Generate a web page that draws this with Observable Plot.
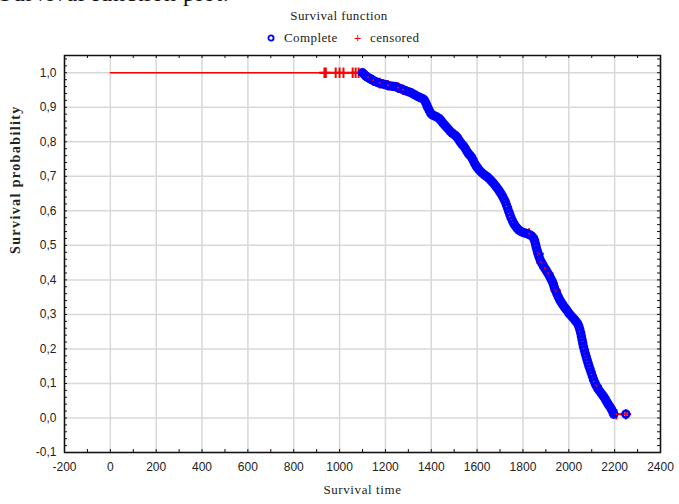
<!DOCTYPE html>
<html>
<head>
<meta charset="utf-8">
<script src="https://cdn.jsdelivr.net/npm/d3@7"></script>
<script src="https://cdn.jsdelivr.net/npm/@observablehq/plot@0.6"></script>
<style>
  html, body { margin: 0; padding: 0; background: #fff; }
  #wrap { position: relative; width: 679px; height: 504px; overflow: hidden; background: #fff; }
  .serif { font-family: "Liberation Serif", "DejaVu Serif", serif; color: #222; }
  #cut { position: absolute; left: -1px; top: -19px; font-size: 24px; line-height: 24px; white-space: nowrap; color: #111; letter-spacing: 0.6px; }
  #title { position: absolute; top: 8px; left: 239px; width: 200px; text-align: center; font-size: 13px; letter-spacing: 0.4px; white-space: nowrap; }
  .leg { position: absolute; top: 31px; font-size: 13px; line-height: 14px; letter-spacing: 0.4px; white-space: nowrap; }
  #chart { position: absolute; left: 0; top: 46px; }
</style>
</head>
<body>
<div id="wrap">
  <div id="cut" class="serif">Survival function plot.</div>
  <div id="title" class="serif">Survival function</div>
  <svg style="position:absolute;left:266px;top:33px" width="10" height="10"><circle cx="5" cy="5" r="2.6" fill="none" stroke="#0000ff" stroke-width="1.8"/></svg>
  <div class="leg serif" style="left:284px;">Complete</div>
  <div class="leg serif" style="left:354px;color:#ff0000;font-weight:bold;">+</div>
  <div class="leg serif" style="left:370px;">censored</div>
  <div id="chart"></div>
</div>
<script>
// Complete (event) times and Kaplan-Meier survival values
const eventTimes = [1100,1108,1115,1122,1130,1138,1146,1155,1165,1175,1185,1196,1207,1218,1230,1242,1255,1266,1277,1288,1300,1312,1323,1333,1343,1352,1362,1370,1376,1381,1386,1392,1398,1405,1414,1424,1434,1442,1450,1458,1466,1474,1482,1490,1498,1506,1514,1521,1528,1535,1542,1549,1556,1563,1570,1577,1583,1589,1595,1601,1608,1615,1623,1632,1641,1650,1659,1667,1675,1683,1690,1697,1704,1711,1717,1723,1728,1733,1738,1743,1748,1754,1760,1767,1774,1781,1789,1798,1808,1818,1828,1838,1846,1851,1855,1858,1862,1866,1870,1875,1881,1888,1895,1902,1909,1916,1922,1928,1933,1937,1942,1948,1954,1960,1966,1973,1980,1987,1994,2001,2009,2017,2025,2032,2039,2044,2048,2052,2055,2058,2061,2064,2068,2072,2076,2080,2084,2088,2093,2098,2103,2108,2114,2120,2127,2134,2142,2150,2157,2163,2169,2175,2181,2187,2192,2196,2249];
const survival = [1.000,0.995,0.990,0.987,0.984,0.981,0.978,0.975,0.972,0.970,0.968,0.966,0.964,0.962,0.961,0.960,0.957,0.954,0.951,0.948,0.945,0.942,0.938,0.934,0.931,0.928,0.925,0.921,0.913,0.905,0.898,0.890,0.882,0.878,0.875,0.872,0.868,0.862,0.855,0.849,0.843,0.837,0.831,0.826,0.822,0.818,0.812,0.805,0.798,0.792,0.787,0.780,0.772,0.765,0.760,0.754,0.746,0.738,0.731,0.725,0.719,0.714,0.709,0.704,0.700,0.695,0.689,0.683,0.677,0.670,0.664,0.657,0.650,0.642,0.634,0.626,0.617,0.608,0.598,0.589,0.580,0.571,0.563,0.556,0.550,0.545,0.541,0.538,0.536,0.534,0.531,0.527,0.521,0.513,0.503,0.494,0.485,0.476,0.467,0.458,0.450,0.442,0.434,0.427,0.419,0.411,0.403,0.395,0.387,0.378,0.369,0.360,0.351,0.343,0.336,0.329,0.322,0.316,0.310,0.303,0.297,0.291,0.285,0.279,0.273,0.265,0.256,0.246,0.236,0.226,0.216,0.206,0.196,0.186,0.177,0.168,0.159,0.150,0.141,0.131,0.121,0.111,0.102,0.093,0.085,0.078,0.071,0.064,0.057,0.050,0.043,0.037,0.031,0.024,0.017,0.011,0.011];
// Censored times
const censoredTimes = [934,940,983,1000,1017,1057,1070,1083,1124,1146,1175,1211,1255,1277,1827,1869,1881,1895,1910,1943,2121,2208,2249];
// Axis ticks
const xTicks = [-200,0,200,400,600,800,1000,1200,1400,1600,1800,2000,2200,2400];
const yTicks = [-0.1,0.0,0.1,0.2,0.3,0.4,0.5,0.6,0.7,0.8,0.9,1.0];

const events = eventTimes.map((t, i) => ({t, s: survival[i]}));
function survAt(t) {
  let s = 1;
  for (const e of events) { if (e.t <= t) s = e.s; else break; }
  return s;
}
const stepData = [{t: 0, s: 1}, ...events];
const censored = censoredTimes.map(t => ({t, s: survAt(t)}));
const censoredInCurve = censored.filter(d => d.t >= eventTimes[0]);

const W = 679, H = 458, mt = 9, mb = 52, ml = 64, mr = 19;
const innerW = W - ml - mr, innerH = H - mt - mb;
const xMinor = d3.range(-200, 2401, 100);
const yMinor = d3.range(-0.1, 1.051, 0.02);
const fmtY = d => (Math.abs(d) < 1e-9 ? 0 : d).toFixed(1).replace(".", ",");
const fmtX = d => String(d);

const chart = Plot.plot({
  width: W, height: H,
  marginTop: mt, marginBottom: mb, marginLeft: ml, marginRight: mr,
  style: {fontFamily: "'Liberation Sans', Arial, sans-serif", fontSize: "12px", color: "#222", background: "#fff"},
  x: {domain: [-200, 2400]},
  y: {domain: [-0.1, 1.05]},
  marks: [
    Plot.gridX(xTicks, {stroke: "#d8d8d8", strokeOpacity: 1, strokeWidth: 1.5}),
    Plot.gridY(yTicks, {stroke: "#d8d8d8", strokeOpacity: 1, strokeWidth: 1.5}),
    Plot.axisX(xTicks, {tickSize: 0, tickPadding: 10, label: null, tickFormat: fmtX, fontSize: 12}),
    Plot.axisY(yTicks, {tickSize: 0, tickPadding: 8, label: null, tickFormat: fmtY, fontSize: 12}),
    Plot.tickX(xMinor, {x: d => d, insetTop: innerH - 3, stroke: "#111"}),
    Plot.tickX(xMinor, {x: d => d, insetBottom: innerH - 3, stroke: "#111"}),
    Plot.tickY(yMinor, {y: d => d, insetRight: innerW - 3, stroke: "#111"}),
    Plot.tickY(yMinor, {y: d => d, insetLeft: innerW - 3, stroke: "#111"}),
    Plot.line(stepData, {x: "t", y: "s", curve: "step-after", stroke: "#ff0000", strokeWidth: 1.5}),
    Plot.dot(censored, {x: "t", y: "s", symbol: "plus", r: 3.5, stroke: "#ff0000", strokeWidth: 2}),
    Plot.dot(events, {x: "t", y: "s", r: 3.4, stroke: "#0000ff", strokeWidth: 2.6, fill: "none"}),
    Plot.dot(censoredInCurve, {x: "t", y: "s", r: 1, fill: "#ff0000", stroke: "none"}),
    Plot.frame({stroke: "#111", strokeWidth: 1.5}),
    Plot.text(["Survival time"], {frameAnchor: "bottom", dy: 41, fontFamily: "'Liberation Serif', serif", fontSize: 13, fill: "#222", style: "letter-spacing:0.6px"}),
    Plot.text(["Survival probability"], {frameAnchor: "left", dx: -49, rotate: -90, fontFamily: "'Liberation Serif', serif", fontSize: 14, fontWeight: "bold", fill: "#222"})
  ]
});
// widen the rotated axis label's letter spacing like the reference
chart.querySelectorAll("text").forEach(t => {
  if (t.textContent === "Survival probability") t.setAttribute("letter-spacing", "1.4");
  if (t.textContent === "Survival time") t.setAttribute("letter-spacing", "0.6");
});
document.getElementById("chart").appendChild(chart);
</script>
</body>
</html>
